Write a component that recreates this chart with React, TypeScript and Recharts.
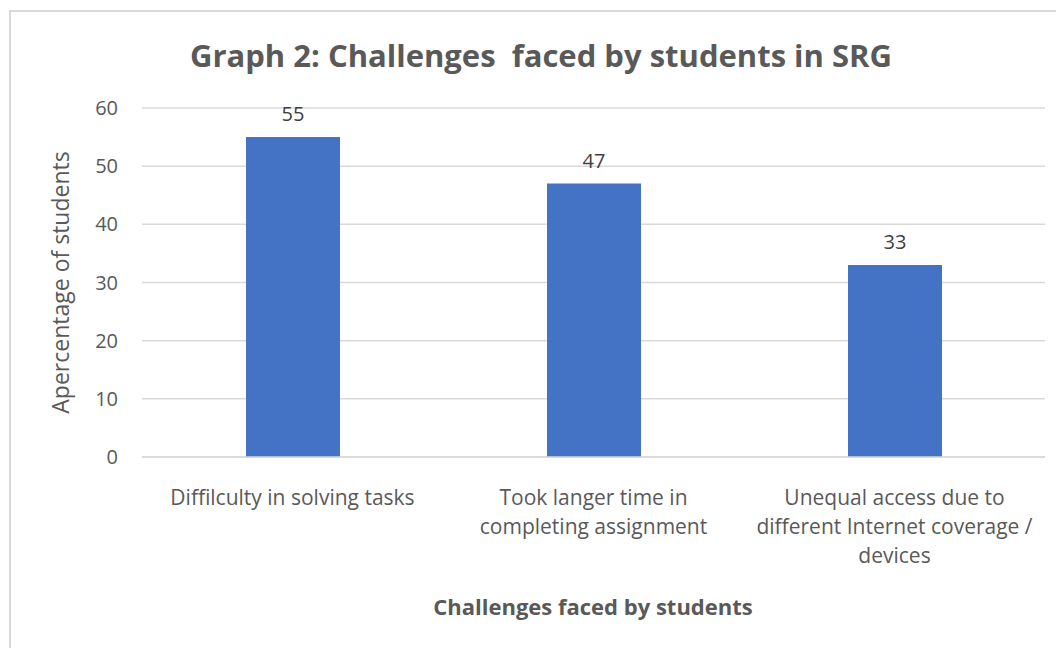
import React from "react";
import { BarChart, Bar, XAxis, YAxis, CartesianGrid, LabelList } from "recharts";

const categories = [
  "Diffilculty in solving tasks",
  "Took langer time in completing assignment",
  "Unequal access due to different Internet coverage / devices",
];
const categoryLines = [
  ["Diffilculty in solving tasks"],
  ["Took langer time in", "completing assignment"],
  ["Unequal access due to", "different Internet coverage /", "devices"],
];
const values = [55, 47, 33];
const yTicks = [0, 10, 20, 30, 40, 50, 60];

const title = "Graph 2: Challenges  faced by students in SRG";
const yTitle = "Apercentage of students";
const xTitle = "Challenges faced by students";

const data = categories.map((c, i) => ({ name: c, value: values[i], idx: i }));

const FONT = "'Open Sans', 'Noto Sans', sans-serif";

const CatTick = (props: any) => {
  const { x, y, index } = props;
  const lines = categoryLines[index] || [];
  return (
    <text x={x} y={y} textAnchor="middle" fill="#595959" fontSize={21} fontFamily={FONT}>
      {lines.map((l, i) => (
        <tspan key={i} x={x} y={y + 40 + i * 29}>
          {l}
        </tspan>
      ))}
    </text>
  );
};

export default function App() {
  return (
    <div style={{ margin: -8, width: 1064, height: 660, position: "relative", overflow: "hidden", background: "#fff" }}>
      <div
        style={{
          position: "absolute",
          left: 9,
          top: 10,
          width: 1100,
          height: 700,
          border: "2px solid #d9d9d9",
          boxSizing: "border-box",
        }}
      />
      <div
        style={{
          position: "absolute",
          left: 0,
          width: 1082,
          top: 33,
          textAlign: "center",
          fontFamily: FONT,
          fontWeight: 700,
          fontSize: 31,
          color: "#595959",
          whiteSpace: "pre",
          lineHeight: "44px",
        }}
      >
        {title}
      </div>
      <div style={{ position: "absolute", left: 0, top: 0 }}>
        <BarChart
          width={1064}
          height={648}
          data={data}
          margin={{ top: 108, right: 19, bottom: 131, left: 82 }}
          barCategoryGap={0}
        >
          <CartesianGrid vertical={false} stroke="#d9d9d9" strokeWidth={1.5} />
          <YAxis
            width={60}
            domain={[0, 60]}
            ticks={yTicks}
            axisLine={false}
            tickLine={false}
            tickSize={0}
            tickMargin={24}
            interval={0}
            tick={{ fill: "#595959", fontSize: 20, fontFamily: FONT }}
            label={{
              value: yTitle,
              angle: -90,
              position: "insideLeft",
              dx: -26,
              dy: 0,
              style: { fill: "#595959", fontSize: 23, fontFamily: FONT, textAnchor: "middle" },
            }}
          />
          <XAxis
            dataKey="name"
            axisLine={{ stroke: "#d9d9d9", strokeWidth: 1.5 }}
            tickLine={false}
            interval={0}
            tick={<CatTick />}
            height={60}
          />
          <Bar dataKey="value" fill="#4472c4" barSize={94} isAnimationActive={false}>
            <LabelList
              dataKey="value"
              position="top"
              offset={16}
              style={{ fill: "#404040", fontSize: 20, fontFamily: FONT }}
            />
          </Bar>
        </BarChart>
      </div>
      <div
        style={{
          position: "absolute",
          left: 293,
          width: 600,
          top: 592,
          textAlign: "center",
          fontFamily: FONT,
          fontWeight: 700,
          fontSize: 22,
          color: "#595959",
          lineHeight: "28px",
        }}
      >
        {xTitle}
      </div>
    </div>
  );
}
